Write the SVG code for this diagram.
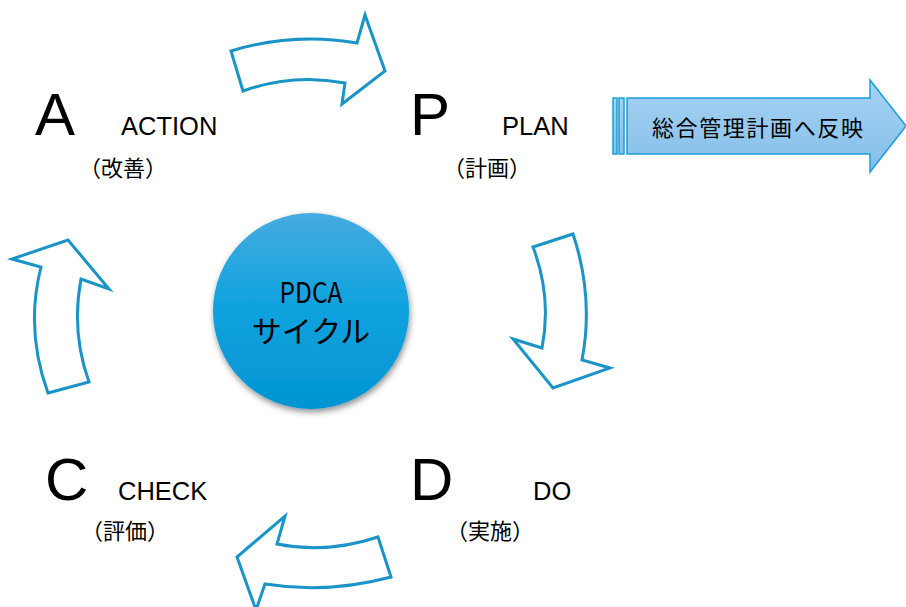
<svg xmlns="http://www.w3.org/2000/svg" width="906" height="607" viewBox="0 0 906 607">
<style>
.flow{fill:#ffffff;stroke:#1a93c7;stroke-width:3;stroke-linejoin:miter}
.big{font-family:"Liberation Sans",Arial,sans-serif;font-size:60px;fill:#000}
.en{font-family:"Liberation Sans",Arial,sans-serif;font-size:25.5px;fill:#000}
.jp{font-family:"Noto Sans CJK JP",sans-serif;font-size:22px;fill:#000;text-anchor:middle}
.ctr{font-family:"Noto Sans CJK JP",sans-serif;fill:#000;text-anchor:middle}
</style>
<defs>
<linearGradient id="cg" x1="0" y1="0" x2="0" y2="1">
<stop offset="0" stop-color="#46abe0"/>
<stop offset="0.5" stop-color="#0ca2de"/>
<stop offset="1" stop-color="#0494d2"/>
</linearGradient>
<linearGradient id="bg" x1="0" y1="0" x2="0" y2="1">
<stop offset="0" stop-color="#a7d2f2"/>
<stop offset="1" stop-color="#84bfea"/>
</linearGradient>
<filter id="sh" x="-20%" y="-20%" width="140%" height="140%">
<feDropShadow dx="1" dy="3" stdDeviation="3" flood-color="#000" flood-opacity="0.45"/>
</filter>
</defs>
<g id="connectors">
<path class="flow" d="M231,51 Q293,32 357,43 L365,15 L385,71 L342,104 L345,83 Q293,73 243,91 Z"/>
<path class="flow" d="M533,247 L573,234 Q594,297 582,360 L610,368 L553,388 L513,339 L542,348 Q552,297 533,247 Z"/>
<path class="flow" d="M378,537 L391,577 Q328,594 265,584 L256,610 L237,557 L285,516 L277,544 Q327,554 378,537 Z"/>
<path class="flow" d="M48,393 L89,382 Q71,332 81,279 L109,289 L68,240 L12,259 L41,267 Q25,330 48,393 Z"/>
</g>
<g id="center">
<circle cx="311" cy="311" r="98" fill="url(#cg)" filter="url(#sh)"/>
<text class="ctr" x="311" y="303" font-size="29" textLength="63" lengthAdjust="spacingAndGlyphs">PDCA</text>
<text class="ctr" x="311" y="342" font-size="30">サイクル</text>
</g>
<g id="action">
<text class="big" x="35" y="135">A</text>
<text class="en" x="121" y="135">ACTION</text>
<text class="jp" x="123" y="176">（改善）</text>
</g>
<g id="plan">
<text class="big" x="410" y="135">P</text>
<text class="en" x="502" y="135">PLAN</text>
<text class="jp" x="487" y="176">（計画）</text>
</g>
<g id="do">
<text class="big" x="410" y="500">D</text>
<text class="en" x="533" y="500">DO</text>
<text class="jp" x="490" y="539">（実施）</text>
</g>
<g id="check">
<text class="big" x="45" y="500">C</text>
<text class="en" x="118" y="500">CHECK</text>
<text class="jp" x="125" y="539">（評価）</text>
</g>
<g id="feedback">
<rect x="613" y="98" width="4" height="56" fill="url(#bg)" stroke="#1a9fd8" stroke-width="1.5"/>
<rect x="619" y="98" width="5" height="56" fill="url(#bg)" stroke="#1a9fd8" stroke-width="1.5"/>
<path d="M627,98 L870,98 L870,80 L906,126 L870,172 L870,154 L627,154 Z" fill="url(#bg)" stroke="#1a9fd8" stroke-width="1.5"/>
<text x="652" y="136" font-family="'Noto Sans CJK JP',sans-serif" font-size="22" fill="#000" textLength="211" lengthAdjust="spacing">総合管理計画へ反映</text>
</g>
</svg>
